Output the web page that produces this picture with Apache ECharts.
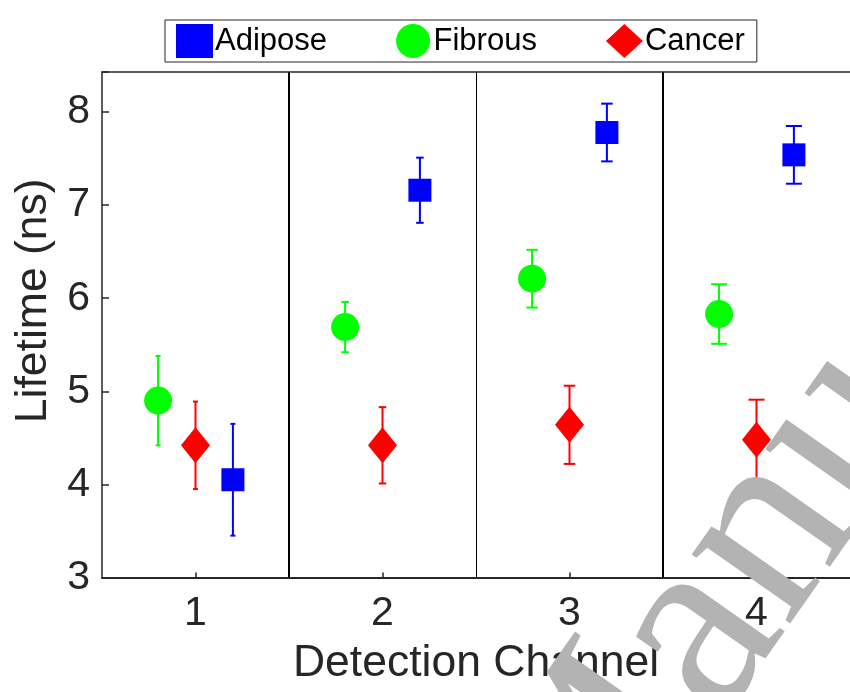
<!DOCTYPE html>
<html>
<head>
<meta charset="utf-8">
<script src="https://cdn.jsdelivr.net/npm/echarts@6/dist/echarts.min.js"></script>
<style>
  html, body { margin: 0; padding: 0; background: #fff; }
  #main { width: 850px; height: 692px; }
</style>
</head>
<body>
<div id="main"></div>
<script>
// channel labels on the x axis
var channels = ['1', '2', '3', '4']
// mean lifetime (ns) and error (half bar) per tissue, channels 1..4
var adiposeMean = [4.05, 7.16, 7.78, 7.54]
var adiposeErr = [0.60, 0.35, 0.31, 0.31]
var fibrousMean = [4.90, 5.69, 6.21, 5.83]
var fibrousErr = [0.48, 0.27, 0.31, 0.32]
var cancerMean = [4.42, 4.42, 4.64, 4.48]
var cancerErr = [0.47, 0.41, 0.42, 0.43]
var yTicks = [3, 4, 5, 6, 7, 8]

var FONT = "'Liberation Sans', Arial, sans-serif"
var AXIS = '#262626'
// cap width grows per panel in the original figure
var capWidth = [5, 7.5, 11.5, 16]

// x offsets inside each channel
var tissues = [
  {name: 'Fibrous', mean: fibrousMean, err: fibrousErr, dx: -0.2, color: '#00ff00', symbol: 'circle', size: [28, 28]},
  {name: 'Cancer', mean: cancerMean, err: cancerErr, dx: 0, color: '#ff0000', symbol: 'diamond', size: [29, 36]},
  {name: 'Adipose', mean: adiposeMean, err: adiposeErr, dx: 0.2, color: '#0000ff', symbol: 'rect', size: [23, 23]}
]

var chart = echarts.init(document.getElementById('main'), null, {renderer: 'canvas'})

var series = []
tissues.forEach(function (t) {
  var errData = t.mean.map(function (m, i) {
    return [i + 1 + t.dx, m - t.err[i], m + t.err[i], i]
  })
  series.push({
    name: t.name + ' err',
    type: 'custom',
    xAxisIndex: 1,
    z: 2,
    silent: true,
    data: errData,
    renderItem: function (params, api) {
      var lo = api.coord([api.value(0), api.value(1)])
      var hi = api.coord([api.value(0), api.value(2)])
      var half = capWidth[api.value(3)] / 2
      var style = {stroke: t.color, lineWidth: 2}
      return {
        type: 'group',
        children: [
          {type: 'line', shape: {x1: lo[0], y1: lo[1], x2: hi[0], y2: hi[1]}, style: style},
          {type: 'line', shape: {x1: lo[0] - half, y1: lo[1], x2: lo[0] + half, y2: lo[1]}, style: style},
          {type: 'line', shape: {x1: hi[0] - half, y1: hi[1], x2: hi[0] + half, y2: hi[1]}, style: style}
        ]
      }
    }
  })
})
tissues.forEach(function (t) {
  series.push({
    name: t.name,
    type: 'scatter',
    xAxisIndex: 1,
    z: 3,
    symbol: t.symbol,
    symbolSize: t.size,
    itemStyle: {color: t.color, opacity: 1},
    data: t.mean.map(function (m, i) { return [i + 1 + t.dx, m] })
  })
})
// panel dividers
series.push({
  type: 'scatter',
  xAxisIndex: 1,
  data: [],
  markLine: {
    silent: true,
    symbol: 'none',
    label: {show: false},
    data: [
      {xAxis: 1.5, lineStyle: {color: '#000', width: 2, type: 'solid'}},
      {xAxis: 2.5, lineStyle: {color: '#000', width: 1, type: 'solid'}},
      {xAxis: 3.5, lineStyle: {color: '#000', width: 2, type: 'solid'}}
    ]
  }
})

var option = {
  backgroundColor: '#fff',
  animation: false,
  textStyle: {fontFamily: FONT},
  legend: {
    left: 165,
    top: 20,
    data: [
      {name: 'Adipose', icon: 'rect'},
      {name: 'Fibrous', icon: 'circle'},
      {name: 'Cancer', icon: 'diamond'}
    ],
    itemWidth: 37,
    itemHeight: 34,
    itemGap: 69,
    padding: [4, 12, 4, 11],
    borderColor: AXIS,
    borderWidth: 1,
    selectedMode: false,
    textStyle: {fontFamily: FONT, fontSize: 31, color: '#000', padding: [0, 0, 0, -3]}
  },
  grid: {left: 102, right: -6, top: 72, bottom: 114.5, containLabel: false},
  xAxis: [
    {
      type: 'category',
      data: channels,
      boundaryGap: true,
      position: 'bottom',
      name: 'Detection Channel',
      nameLocation: 'middle',
      nameGap: 64,
      nameTextStyle: {fontFamily: FONT, fontSize: 44.5, color: AXIS},
      axisLine: {show: true, lineStyle: {color: AXIS, width: 2}},
      axisTick: {show: true, inside: true, alignWithLabel: true, length: 5, lineStyle: {color: AXIS, width: 1.5}},
      axisLabel: {fontFamily: FONT, fontSize: 41, color: AXIS, margin: 16},
      splitLine: {show: false}
    },
    {
      type: 'value',
      min: 0.5,
      max: 4.5,
      position: 'top',
      axisLine: {show: true, onZero: false, lineStyle: {color: AXIS, width: 1.5}},
      axisTick: {show: false},
      axisLabel: {show: false},
      splitLine: {show: false}
    }
  ],
  yAxis: {
    type: 'value',
    min: yTicks[0],
    max: 8.43,
    interval: 1,
    name: 'Lifetime (ns)',
    nameLocation: 'middle',
    nameGap: 44,
    nameTextStyle: {fontFamily: FONT, fontSize: 44.5, color: AXIS, padding: [0, 0, 0, 48]},
    axisLine: {show: true, lineStyle: {color: AXIS, width: 1.5}},
    axisTick: {show: true, inside: true, length: 7, lineStyle: {color: AXIS, width: 1.5}},
    axisLabel: {fontFamily: FONT, fontSize: 41, color: AXIS, margin: 12,
      formatter: function (v) { return yTicks.indexOf(v) >= 0 ? String(v) : '' }},
    splitLine: {show: false}
  },
  graphic: [
    {
      // grey "Manuscript" watermark over the lower right
      type: 'text',
      x: 530,
      y: 875,
      rotation: 55 * Math.PI / 180,
      z: 100,
      silent: true,
      style: {
        text: 'Manuscript',
        font: "262px 'Liberation Serif', 'Times New Roman', serif",
        fill: '#b3b3b3',
        blend: 'multiply',
        textAlign: 'left',
        textVerticalAlign: 'middle'
      }
    }
  ],
  series: series
}

chart.setOption(option)
</script>
</body>
</html>
